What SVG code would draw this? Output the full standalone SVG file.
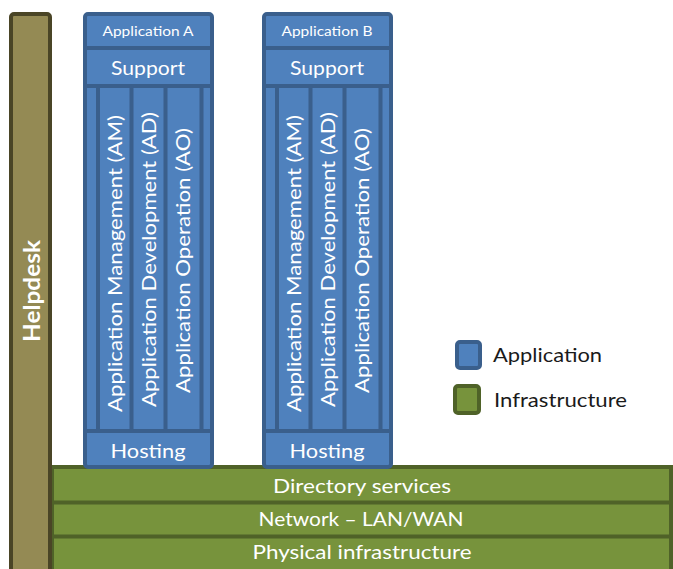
<svg xmlns="http://www.w3.org/2000/svg" width="673" height="569" viewBox="0 0 673 569">
  <style>
    .app { fill: #4f81bd; stroke: #3a5f8c; stroke-width: 4; }
    .infra { fill: #77933c; stroke: #4f6228; stroke-width: 4; }
    .desk { fill: #948a54; stroke: #4a4526; stroke-width: 4; }
    .div { stroke: #3a5f8c; stroke-width: 4; }
    text { font-family: Lato, "Open Sans", "Liberation Sans", sans-serif; fill: #ffffff; }
    .title { font-size: 14px; text-anchor: middle; }
    .row { font-size: 20px; text-anchor: middle; }
    .vert { font-size: 19px; text-anchor: middle; }
    .legend { font-size: 20px; fill: #1a1a1a; }
  </style>
  <defs>
    <!-- one application stack, drawn at origin x=0 (outer left edge = 83) -->
    <g id="stack">
      <rect class="app" x="85" y="14" width="127" height="453" rx="3"/>
      <line class="div" x1="85" y1="48" x2="212" y2="48"/>
      <line class="div" x1="85" y1="86" x2="212" y2="86"/>
      <line class="div" x1="85" y1="431" x2="212" y2="431"/>
      <line class="div" x1="98" y1="86" x2="98" y2="431"/>
      <line class="div" x1="131.5" y1="86" x2="131.5" y2="431"/>
      <line class="div" x1="165.5" y1="86" x2="165.5" y2="431"/>
      <line class="div" x1="201.5" y1="86" x2="201.5" y2="431"/>
      <text class="row" x="148" y="75" textLength="74" lengthAdjust="spacingAndGlyphs">Support</text>
      <text class="row" x="148" y="458" textLength="75" lengthAdjust="spacingAndGlyphs">Hosting</text>
      <text class="vert" transform="translate(122,263.5) rotate(-90)" textLength="297" lengthAdjust="spacingAndGlyphs">Application Management (AM)</text>
      <text class="vert" transform="translate(156,259.5) rotate(-90)" textLength="295" lengthAdjust="spacingAndGlyphs">Application Development (AD)</text>
      <text class="vert" transform="translate(190,260.5) rotate(-90)" textLength="265" lengthAdjust="spacingAndGlyphs">Application Operation (AO)</text>
    </g>
  </defs>

  <!-- infrastructure layers -->
  <g id="infrastructure">
    <rect class="infra" x="52" y="467" width="619" height="120"/>
    <line stroke="#4f6228" stroke-width="4" x1="52" y1="502.5" x2="671" y2="502.5"/>
    <line stroke="#4f6228" stroke-width="4" x1="52" y1="536.5" x2="671" y2="536.5"/>
    <text class="row" x="362" y="493" textLength="178" lengthAdjust="spacingAndGlyphs">Directory services</text>
    <text class="row" x="361" y="526" textLength="205" lengthAdjust="spacingAndGlyphs">Network – LAN/WAN</text>
    <text class="row" x="362" y="559" textLength="219" lengthAdjust="spacingAndGlyphs">Physical infrastructure</text>
  </g>

  <!-- helpdesk -->
  <g id="helpdesk">
    <rect class="desk" x="11" y="14" width="39" height="600" rx="3"/>
    <text transform="translate(40,291) rotate(-90)" font-size="22" font-weight="bold" text-anchor="middle" textLength="102" lengthAdjust="spacingAndGlyphs">Helpdesk</text>
  </g>

  <!-- application A -->
  <g id="application-a">
    <use href="#stack"/>
    <text class="title" x="148" y="36" textLength="91" lengthAdjust="spacingAndGlyphs">Application A</text>
  </g>

  <!-- application B -->
  <g id="application-b">
    <use href="#stack" transform="translate(179,0)"/>
    <text class="title" x="327" y="36" textLength="91" lengthAdjust="spacingAndGlyphs">Application B</text>
  </g>

  <!-- legend -->
  <g id="legend">
    <rect class="app" x="457" y="342" width="23" height="26" rx="3"/>
    <text class="legend" x="493" y="362" textLength="109" lengthAdjust="spacingAndGlyphs">Application</text>
    <rect class="infra" x="455" y="386" width="24" height="27" rx="3"/>
    <text class="legend" x="494" y="407" textLength="133" lengthAdjust="spacingAndGlyphs">Infrastructure</text>
  </g>
</svg>
